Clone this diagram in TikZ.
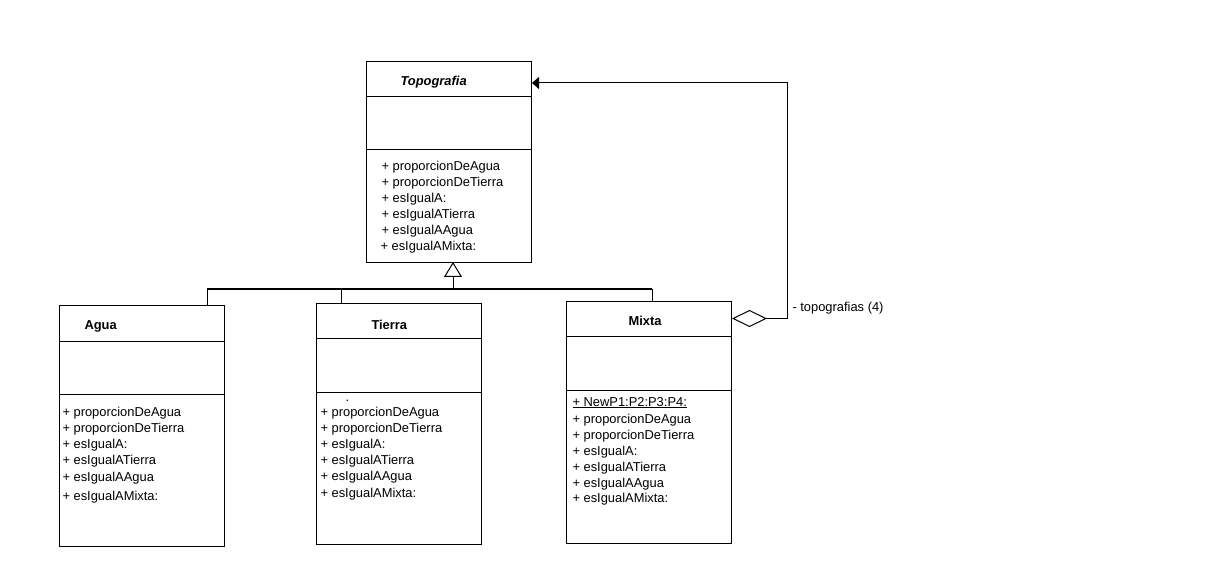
\documentclass[tikz,border=0pt]{standalone}
\usepackage{fontspec}
\setmainfont{Liberation Sans}
\usetikzlibrary{arrows.meta}
\begin{document}
\begin{tikzpicture}[x=1pt,y=-1pt,line width=1pt,
  classbox/.style={draw,rectangle,minimum width=165pt,inner sep=0pt,anchor=north west},
  txt/.style={inner sep=0pt,anchor=base west,font=\fontsize{12.9}{15}\selectfont},
  ttl/.style={txt,font=\fontsize{12.9}{15}\selectfont\bfseries},
  conn/.style={line width=1pt}]
\fill[white] (0,0) rectangle (1216,564);
\useasboundingbox (0,0) rectangle (1216,564);
% boxes
\node[classbox,minimum height=201pt] (topo) at (366,61) {};
\node[classbox,minimum height=241pt] (agua) at (59,305) {};
\node[classbox,minimum height=241pt] (tierra) at (316,303) {};
\node[classbox,minimum height=242pt] (mixta) at (566,301) {};
% dividers
\draw (topo.west |- 0,97) -- (topo.east |- 0,97);
\draw (topo.west |- 0,150) -- (topo.east |- 0,150);
\draw (agua.west |- 0,341) -- (agua.east |- 0,341);
\draw (agua.west |- 0,394) -- (agua.east |- 0,394);
\draw (tierra.west |- 0,338) -- (tierra.east |- 0,338);
\draw (tierra.west |- 0,392) -- (tierra.east |- 0,392);
\draw (mixta.west |- 0,336) -- (mixta.east |- 0,336);
\draw (mixta.west |- 0,390) -- (mixta.east |- 0,390);
% titles
\node[ttl,font=\fontsize{12.9}{15}\selectfont\bfseries\itshape] (topoT) at (400,86) {Topografia};
\node[ttl] (aguaT) at (84,329) {Agua};
\node[ttl] (tierraT) at (371,329) {Tierra};
\node[ttl] (mixtaT) at (628,325) {Mixta};
% Topografia ops
\node[txt] (t1) at (381,171) {+ proporcionDeAgua};
\node[txt] (t2) at (381,187) {+ proporcionDeTierra};
\node[txt] (t3) at (381,203) {+ esIgualA:};
\node[txt] (t4) at (381,219) {+ esIgualATierra};
\node[txt] (t5) at (381,235) {+ esIgualAAgua};
\node[txt] (t6) at (380,251) {+ esIgualAMixta:};
% Agua ops
\node[txt] (a1) at (62,416) {+ proporcionDeAgua};
\node[txt] (a2) at (62,432) {+ proporcionDeTierra};
\node[txt] (a3) at (62,448) {+ esIgualA:};
\node[txt] (a4) at (62,464) {+ esIgualATierra};
\node[txt] (a5) at (62,481) {+ esIgualAAgua};
\node[txt] (a6) at (62,500) {+ esIgualAMixta:};
% Tierra ops
\node[txt] (dot) at (345,401) {.};
\node[txt] (r1) at (320,416) {+ proporcionDeAgua};
\node[txt] (r2) at (320,432) {+ proporcionDeTierra};
\node[txt] (r3) at (320,448) {+ esIgualA:};
\node[txt] (r4) at (320,464) {+ esIgualATierra};
\node[txt] (r5) at (320,480) {+ esIgualAAgua};
\node[txt] (r6) at (320,497) {+ esIgualAMixta:};
% Mixta ops
\node[txt] (m0) at (572,406) {\underline{+ NewP1:P2:P3:P4:}};
\node[txt] (m1) at (572,423) {+ proporcionDeAgua};
\node[txt] (m2) at (572,439) {+ proporcionDeTierra};
\node[txt] (m3) at (572,455) {+ esIgualA:};
\node[txt] (m4) at (572,471) {+ esIgualATierra};
\node[txt] (m5) at (572,487) {+ esIgualAAgua};
\node[txt] (m6) at (572,502) {+ esIgualAMixta:};
% generalization
\coordinate (gtip) at (453,262);
\coordinate (gbar) at (453,289);
\coordinate (gL) at (207,289);
\coordinate (gM) at (341,289);
\coordinate (gR) at (652,289);
\draw[conn,-{Triangle[open,length=15pt,width=18pt]}] (gbar) -- (gtip);
\draw[conn] (gL) -- (gR);
\draw[conn] (gL) -- (gL |- agua.north);
\draw[conn] (gM) -- (gM |- tierra.north);
\draw[conn] (gR) -- (gR |- mixta.north);
% aggregation
\coordinate (aS) at (732,318.5);
\coordinate (aC) at (787,318.5);
\coordinate (aT) at (787,83);
\draw[conn,{Diamond[open,length=35pt,width=17pt]}-{Triangle[length=7pt,width=12pt]}]
  (aS) -- (aC) -- (aT) -- (aT -| topo.east);
\node[txt] (agl) at (792,312) {- topografias (4)};
\end{tikzpicture}
\end{document}
